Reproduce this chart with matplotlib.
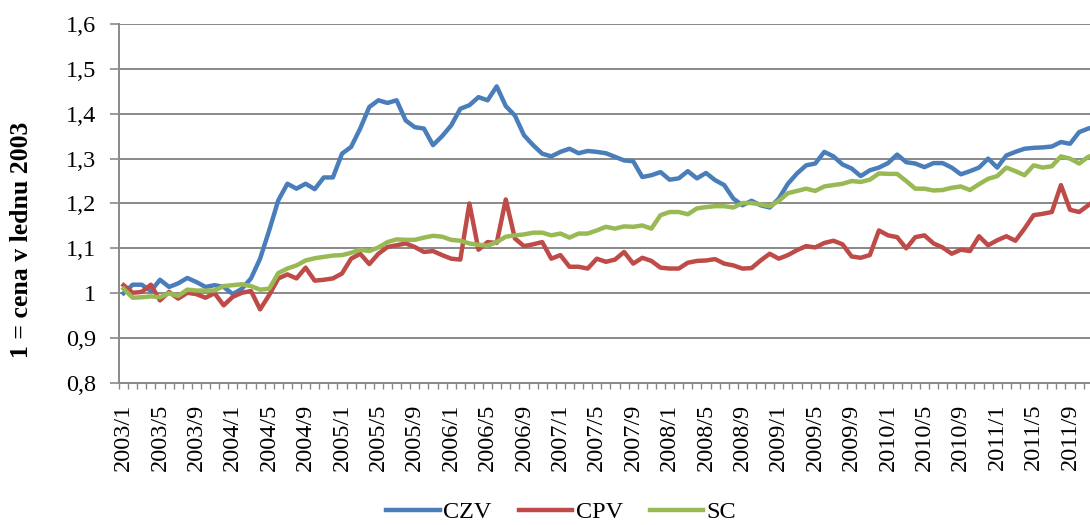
import numpy as np
import matplotlib.pyplot as plt

# monthly price indices, 1 = price in January 2003
months = ['%d/%d' % (y, m) for y in range(2003, 2012) for m in range(1, 13)]

czv = [1.000, 1.019, 1.019, 1.005, 1.030, 1.014, 1.022, 1.034, 1.025, 1.014, 1.018, 1.014,
       0.998, 1.010, 1.033, 1.077, 1.140, 1.207, 1.244, 1.233, 1.244, 1.232, 1.258, 1.258,
       1.311, 1.326, 1.367, 1.415, 1.430, 1.424, 1.430, 1.385, 1.370, 1.367, 1.330, 1.350,
       1.374, 1.411, 1.419, 1.437, 1.430, 1.461, 1.417, 1.396, 1.352, 1.330, 1.311, 1.305,
       1.315, 1.322, 1.312, 1.317, 1.315, 1.312, 1.304, 1.296, 1.294, 1.259, 1.263, 1.270,
       1.253, 1.256, 1.272, 1.256, 1.268, 1.252, 1.241, 1.211, 1.196, 1.206, 1.196, 1.191,
       1.211, 1.244, 1.267, 1.285, 1.289, 1.315, 1.305, 1.287, 1.278, 1.261, 1.274, 1.280,
       1.290, 1.309, 1.292, 1.289, 1.281, 1.290, 1.290, 1.280, 1.265, 1.272, 1.280, 1.300,
       1.280, 1.307, 1.315, 1.322, 1.324, 1.325, 1.327, 1.337, 1.333, 1.359, 1.367, 1.372]

cpv = [1.018, 1.001, 1.003, 1.019, 0.984, 1.003, 0.988, 1.001, 0.998, 0.990, 1.000, 0.973,
       0.992, 1.001, 1.005, 0.964, 0.996, 1.033, 1.042, 1.033, 1.057, 1.028, 1.030, 1.033,
       1.044, 1.077, 1.088, 1.065, 1.088, 1.103, 1.107, 1.111, 1.103, 1.092, 1.094, 1.085,
       1.077, 1.075, 1.200, 1.097, 1.114, 1.112, 1.209, 1.122, 1.105, 1.109, 1.114, 1.077,
       1.085, 1.059, 1.059, 1.055, 1.077, 1.070, 1.075, 1.092, 1.066, 1.079, 1.072, 1.057,
       1.055, 1.055, 1.068, 1.072, 1.073, 1.076, 1.066, 1.062, 1.055, 1.056, 1.073, 1.088,
       1.077, 1.085, 1.096, 1.105, 1.102, 1.112, 1.117, 1.109, 1.082, 1.079, 1.085, 1.140,
       1.129, 1.125, 1.100, 1.125, 1.129, 1.111, 1.102, 1.088, 1.097, 1.094, 1.127, 1.107,
       1.118, 1.127, 1.117, 1.144, 1.174, 1.177, 1.181, 1.241, 1.186, 1.181, 1.196, 1.210]

sc = [1.010, 0.990, 0.991, 0.993, 0.991, 1.000, 0.994, 1.008, 1.006, 1.006, 1.006, 1.016,
      1.018, 1.020, 1.016, 1.008, 1.010, 1.045, 1.055, 1.062, 1.073, 1.078, 1.081, 1.084,
      1.085, 1.090, 1.097, 1.094, 1.102, 1.114, 1.120, 1.119, 1.119, 1.124, 1.128, 1.126,
      1.119, 1.117, 1.111, 1.108, 1.106, 1.114, 1.126, 1.129, 1.131, 1.135, 1.135, 1.129,
      1.133, 1.124, 1.133, 1.133, 1.140, 1.148, 1.144, 1.149, 1.148, 1.151, 1.144, 1.174,
      1.181, 1.181, 1.176, 1.189, 1.192, 1.194, 1.194, 1.191, 1.201, 1.201, 1.198, 1.194,
      1.206, 1.223, 1.228, 1.233, 1.228, 1.238, 1.241, 1.244, 1.250, 1.248, 1.253, 1.267,
      1.266, 1.266, 1.250, 1.233, 1.233, 1.229, 1.230, 1.235, 1.238, 1.230, 1.243, 1.255,
      1.261, 1.280, 1.272, 1.263, 1.285, 1.280, 1.283, 1.305, 1.300, 1.289, 1.304, 1.310]

series = [('CZV', czv, '#4a7ebb'), ('CPV', cpv, '#be4b48'), ('SC', sc, '#98b954')]
y_ticks = [0.8, 0.9, 1.0, 1.1, 1.2, 1.3, 1.4, 1.5, 1.6]
y_labels = ['0,8', '0,9', '1', '1,1', '1,2', '1,3', '1,4', '1,5', '1,6']

plt.rcParams['font.family'] = ['Liberation Serif', 'DejaVu Serif']
grid_col = '#898989'

fig = plt.figure(figsize=(10.9, 5.25), dpi=100)
# plot area runs a bit past the right edge of the figure
ax = fig.add_axes([0.1092, 0.2705, 0.9017, 0.6838])

x = np.arange(len(months))
for name, vals, col in series:
    ax.plot(x, vals, color=col, linewidth=3.2, label=name, solid_joinstyle='round')

ax.set_xlim(-0.5, len(months) - 0.5)
ax.set_ylim(0.8, 1.6)
ax.set_yticks(y_ticks, y_labels)
ax.set_xticks(x[::4], months[::4], rotation=90)
ax.set_xticks(np.arange(-0.5, len(months), 1), minor=True)

ax.grid(axis='y', color=grid_col, linewidth=1.4)
ax.set_axisbelow(True)
for s in ['top', 'right']:
    ax.spines[s].set_visible(False)
for s in ['left', 'bottom']:
    ax.spines[s].set_color(grid_col)
    ax.spines[s].set_linewidth(1.4)

ax.tick_params(axis='y', length=6.5, width=1.2, color=grid_col, pad=10, labelsize=17.5)
ax.tick_params(axis='x', which='major', length=0, pad=15, labelsize=17.5)
ax.tick_params(axis='x', which='minor', length=4.5, width=1, color=grid_col)

# axis title sits a little below the middle of the value axis
fig.text(22 / 1090, 1 - 240 / 525, '1 = cena v lednu 2003', rotation=90,
         ha='center', va='center', fontsize=18.5, fontweight='bold')

fig.legend(loc='center', bbox_to_anchor=(0.515, 1 - 512 / 525), ncol=3, frameon=False,
           fontsize=17.5, handlelength=2.2, handletextpad=0.15, columnspacing=1.1)

plt.savefig('out.png', dpi=100)
